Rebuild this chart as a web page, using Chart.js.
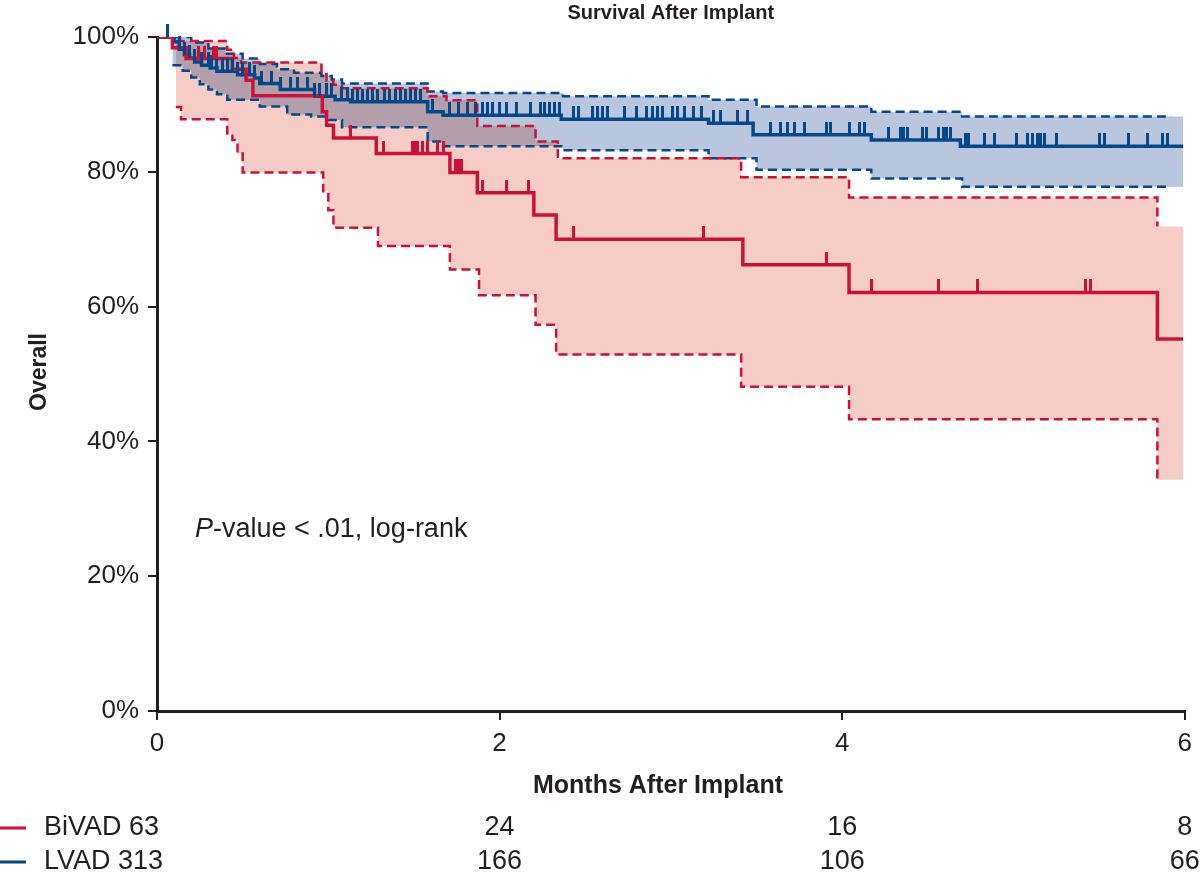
<!DOCTYPE html>
<html>
<head>
<meta charset="utf-8">
<title>Survival After Implant</title>
<script src="https://cdn.jsdelivr.net/npm/chart.js@4.4.1/dist/chart.umd.min.js"></script>
<style>
  html, body { margin: 0; padding: 0; background: #fff; }
  #km { display: block; }
</style>
</head>
<body>
<canvas id="km" width="1200" height="875"></canvas>
<script>
// Kaplan-Meier curves, months after implant vs. % surviving
const bivadTimes = [0, 0.09, 0.17, 0.44, 0.52, 0.56, 0.965, 0.99, 1.03, 1.28, 1.71, 1.87, 2.20, 2.33, 3.42, 4.04, 5.84, 5.99];
const bivadSurv  = [100, 98.4, 96.8, 95.2, 93.6, 91.3, 88.9, 86.9, 85.0, 82.7, 79.9, 76.9, 73.6, 70.0, 66.2, 62.1, 55.2, 55.2];

const bivadUpperTimes = [0.11, 0.41, 0.45, 0.49, 0.96, 0.99, 1.03, 1.08, 1.58, 1.69, 1.87, 2.21, 2.34, 3.41, 4.04, 5.84, 5.99];
const bivadUpper      = [99.4, 98.1, 96.9, 96.2, 94.5, 93.5, 92.9, 92.4, 91.2, 90.6, 86.8, 84.5, 82.0, 79.2, 76.2, 71.9, 71.9];

const bivadLowerTimes = [0.11, 0.14, 0.41, 0.44, 0.47, 0.50, 0.97, 1.0, 1.03, 1.29, 1.71, 1.88, 2.21, 2.33, 3.41, 4.04, 5.84, 5.99];
const bivadLower      = [89.6, 87.8, 85.7, 84.7, 82.7, 79.9, 77.1, 74.3, 71.7, 69.0, 65.5, 61.7, 57.3, 52.9, 48.1, 43.3, 34.3, 34.3];

const lvadTimes = [0, 0.1, 0.13, 0.16, 0.19, 0.22, 0.26, 0.31, 0.35, 0.47, 0.57, 0.6, 0.72, 0.92, 1.04, 1.13, 1.58, 1.67, 2.36, 3.22, 3.48, 4.17, 4.69, 5.99];
const lvadSurv  = [100, 99.3, 98.2, 97.4, 96.9, 96.3, 95.8, 95.4, 94.9, 94.4, 93.9, 93.1, 92.2, 91.2, 90.7, 90.4, 88.9, 88.4, 87.8, 87.2, 85.5, 84.7, 83.8, 83.8];

const lvadUpperTimes = [0.09, 0.2, 0.3, 0.4, 0.5, 0.6, 0.7, 0.8, 0.96, 1.02, 1.08, 1.58, 1.67, 2.37, 3.22, 3.50, 4.17, 4.70, 5.99];
const lvadUpper      = [100, 99.2, 98.3, 97.5, 96.8, 96.0, 95.2, 94.7, 94.2, 93.7, 93.1, 91.9, 91.7, 91.2, 90.7, 89.7, 88.9, 88.2, 88.2];

const lvadLowerTimes = [0.09, 0.15, 0.2, 0.25, 0.3, 0.35, 0.41, 0.6, 0.76, 0.9, 1.0, 1.08, 1.58, 1.67, 2.37, 3.22, 3.50, 4.17, 4.70, 5.99];
const lvadLower      = [95.8, 95.0, 94.0, 93.0, 92.2, 91.5, 90.7, 89.7, 88.5, 88.2, 87.7, 86.6, 84.5, 83.8, 83.2, 82.0, 80.3, 79.0, 77.8, 77.8];

// the LVAD dashed limits stop a little short of the shaded band
const lvadDashEnd = 5.92;

// censored observations (months)
const bivadCensored = [0.24, 0.28, 0.33, 0.35, 1.13, 1.32, 1.49, 1.51, 1.52, 1.55, 1.58, 1.64, 1.67, 1.74, 1.76, 1.78,
  1.90, 2.04, 2.17, 2.43, 3.19, 3.91, 4.17, 4.56, 4.79, 5.42, 5.45];
const lvadCensored = [0.06, 0.13, 0.16, 0.19, 0.22, 0.26, 0.30, 0.32, 0.35, 0.38, 0.41, 0.44, 0.47, 0.50, 0.54, 0.57, 0.61,
  0.67, 0.72, 0.78, 0.82, 0.88, 0.92, 0.95, 0.99, 1.02, 1.08, 1.11, 1.14, 1.17, 1.20, 1.23, 1.26, 1.29, 1.33, 1.36,
  1.39, 1.42, 1.45, 1.48, 1.51, 1.54, 1.61, 1.71, 1.76, 1.81, 1.86, 1.90, 1.93, 1.96, 2.00, 2.04, 2.10, 2.18, 2.24,
  2.26, 2.29, 2.32, 2.35, 2.43, 2.46, 2.54, 2.57, 2.60, 2.63, 2.73, 2.80, 2.86, 2.89, 2.92, 2.95, 3.01, 3.04, 3.08,
  3.13, 3.18, 3.25, 3.29, 3.39, 3.45, 3.58, 3.64, 3.68, 3.72, 3.78, 3.91, 3.93, 4.04, 4.10, 4.13, 4.27, 4.34, 4.36,
  4.38, 4.47, 4.49, 4.56, 4.59, 4.61, 4.63, 4.72, 4.74, 4.83, 4.89, 5.02, 5.08, 5.11, 5.14, 5.16, 5.18, 5.25, 5.50,
  5.53, 5.67, 5.78, 5.87, 5.90];

// numbers at risk
const riskMonths = [2, 4, 6];
const bivadAtRisk = [24, 16, 8];
const lvadAtRisk = [166, 106, 66];
const groupLabels = ["BiVAD 63", "LVAD 313"];

const xTicks = [0, 2, 4, 6];
const yTicks = [0, 20, 40, 60, 80, 100];

const RED = "#cc1139";
const BLUE = "#044888";
const INK = "#231f20";
const FONT = '"Liberation Sans", Arial, sans-serif';

function toPoints(times, vals) {
  return times.map((t, i) => ({ x: t, y: vals[i] }));
}

function survAt(times, vals, t) {
  let v = vals[0];
  for (let i = 0; i < times.length; i++) {
    if (times[i] <= t) v = vals[i];
  }
  return v;
}

// small vertical tick that sits on top of the curve
function censorMark(color) {
  const c = document.createElement("canvas");
  c.width = 3;
  c.height = 26;
  const g = c.getContext("2d");
  g.fillStyle = color;
  g.fillRect(0, 0, 3, 13);
  return c;
}

function stepLine(data, color, width, dash) {
  return {
    data: data,
    borderColor: color,
    borderWidth: width,
    borderDash: dash || [],
    borderCapStyle: "butt",
    stepped: "before",
    pointRadius: 0,
    fill: false,
  };
}

function band(data, color, fillTo) {
  return {
    data: data,
    borderWidth: 0,
    borderColor: "rgba(0,0,0,0)",
    backgroundColor: color,
    stepped: "before",
    pointRadius: 0,
    fill: fillTo,
  };
}

function ticks(times, stepTimes, stepVals, color) {
  return {
    data: times.map(t => ({ x: t, y: survAt(stepTimes, stepVals, t) })),
    showLine: false,
    pointStyle: censorMark(color),
    pointRadius: 6,
    clip: false,
  };
}

function upTo(times, vals, end) {
  const pts = toPoints(times, vals).filter(p => p.x < end);
  pts.push({ x: end, y: survAt(times, vals, end) });
  return pts;
}

const overlay = {
  id: "overlay",
  beforeDraw(chart) {
    // overlapping confidence bands darken like the print
    chart.ctx.globalCompositeOperation = "multiply";
  },
  beforeDatasetsDraw(chart) {
    chart.ctx.globalCompositeOperation = "source-over";
  },
  afterDraw(chart) {
    const ctx = chart.ctx;
    const x = chart.scales.x;
    const area = chart.chartArea;
    ctx.save();
    ctx.globalCompositeOperation = "source-over";
    ctx.fillStyle = INK;

    ctx.font = "bold 20px " + FONT;
    ctx.textAlign = "center";
    ctx.textBaseline = "middle";
    ctx.fillText("Survival After Implant", (area.left + area.right) / 2, 13);

    ctx.font = "bold 25px " + FONT;
    ctx.fillText("Months After Implant", 658, 786);

    ctx.save();
    ctx.translate(40, 372);
    ctx.rotate(-Math.PI / 2);
    ctx.font = "bold 23px " + FONT;
    ctx.fillText("Overall", 0, 0);
    ctx.restore();

    // p-value note
    ctx.textAlign = "left";
    ctx.textBaseline = "alphabetic";
    ctx.font = "italic 27px " + FONT;
    ctx.fillText("P", 195, 537);
    const pw = ctx.measureText("P").width;
    ctx.font = "27px " + FONT;
    ctx.fillText("-value < .01, log-rank", 195 + pw, 537);

    // at-risk table
    const rows = [[bivadAtRisk, RED, 828], [lvadAtRisk, BLUE, 862]];
    rows.forEach((row, r) => {
      const [counts, color, y] = row;
      ctx.fillStyle = color;
      ctx.fillRect(0, y - 1.5, 26, 3);
      ctx.fillStyle = INK;
      ctx.font = "27px " + FONT;
      ctx.textAlign = "left";
      ctx.textBaseline = "middle";
      ctx.fillText(groupLabels[r], 44, y);
      ctx.textAlign = "center";
      counts.forEach((n, i) => {
        ctx.fillText(String(n), x.getPixelForValue(riskMonths[i]), y);
      });
    });
    ctx.restore();
  },
};

new Chart(document.getElementById("km"), {
  type: "line",
  data: {
    datasets: [
      ticks(bivadCensored, bivadTimes, bivadSurv, RED),
      ticks(lvadCensored, lvadTimes, lvadSurv, BLUE),
      stepLine(toPoints(bivadTimes, bivadSurv), RED, 3.5),
      stepLine(toPoints(lvadTimes, lvadSurv), BLUE, 3.5),
      stepLine(toPoints(bivadUpperTimes, bivadUpper).slice(0, -1), RED, 2.5, [9, 5]),
      stepLine(toPoints(bivadLowerTimes, bivadLower).slice(0, -1), RED, 2.5, [9, 5]),
      stepLine(upTo(lvadUpperTimes, lvadUpper, lvadDashEnd), BLUE, 2.5, [9, 5]),
      stepLine(upTo(lvadLowerTimes, lvadLower, lvadDashEnd), BLUE, 2.5, [9, 5]),
      band(toPoints(bivadUpperTimes, bivadUpper), "#f5cdc6", "+1"),
      band(toPoints(bivadLowerTimes, bivadLower), "#f5cdc6", false),
      band(toPoints(lvadUpperTimes, lvadUpper), "#bac6de", "+1"),
      band(toPoints(lvadLowerTimes, lvadLower), "#bac6de", false),
    ],
  },
  options: {
    responsive: false,
    animation: false,
    devicePixelRatio: 1,
    layout: { padding: { top: 37, right: 15, left: 0, bottom: 0 } },
    plugins: {
      legend: { display: false },
      tooltip: { enabled: false },
      filler: { drawTime: "beforeDatasetsDraw" },
    },
    scales: {
      x: {
        type: "linear",
        min: 0,
        max: 6,
        afterFit: s => { s.height = 164; },
        afterBuildTicks: s => { s.ticks = xTicks.map(v => ({ value: v })); },
        border: { display: true, width: 3, color: INK },
        grid: { display: true, drawOnChartArea: false, drawTicks: true, tickLength: 9, lineWidth: 2, color: INK },
        ticks: { color: INK, font: { family: FONT, size: 26 }, padding: 8, maxRotation: 0 },
      },
      y: {
        type: "linear",
        min: 0,
        max: 100,
        afterFit: s => { s.width = 157; },
        afterBuildTicks: s => { s.ticks = yTicks.map(v => ({ value: v })); },
        border: { display: true, width: 3, color: INK },
        grid: { display: true, drawOnChartArea: false, drawTicks: true, tickLength: 9, lineWidth: 2, color: INK },
        ticks: { color: INK, font: { family: FONT, size: 26 }, padding: 9, callback: v => v + "%" },
      },
    },
  },
  plugins: [overlay],
});
</script>
</body>
</html>
